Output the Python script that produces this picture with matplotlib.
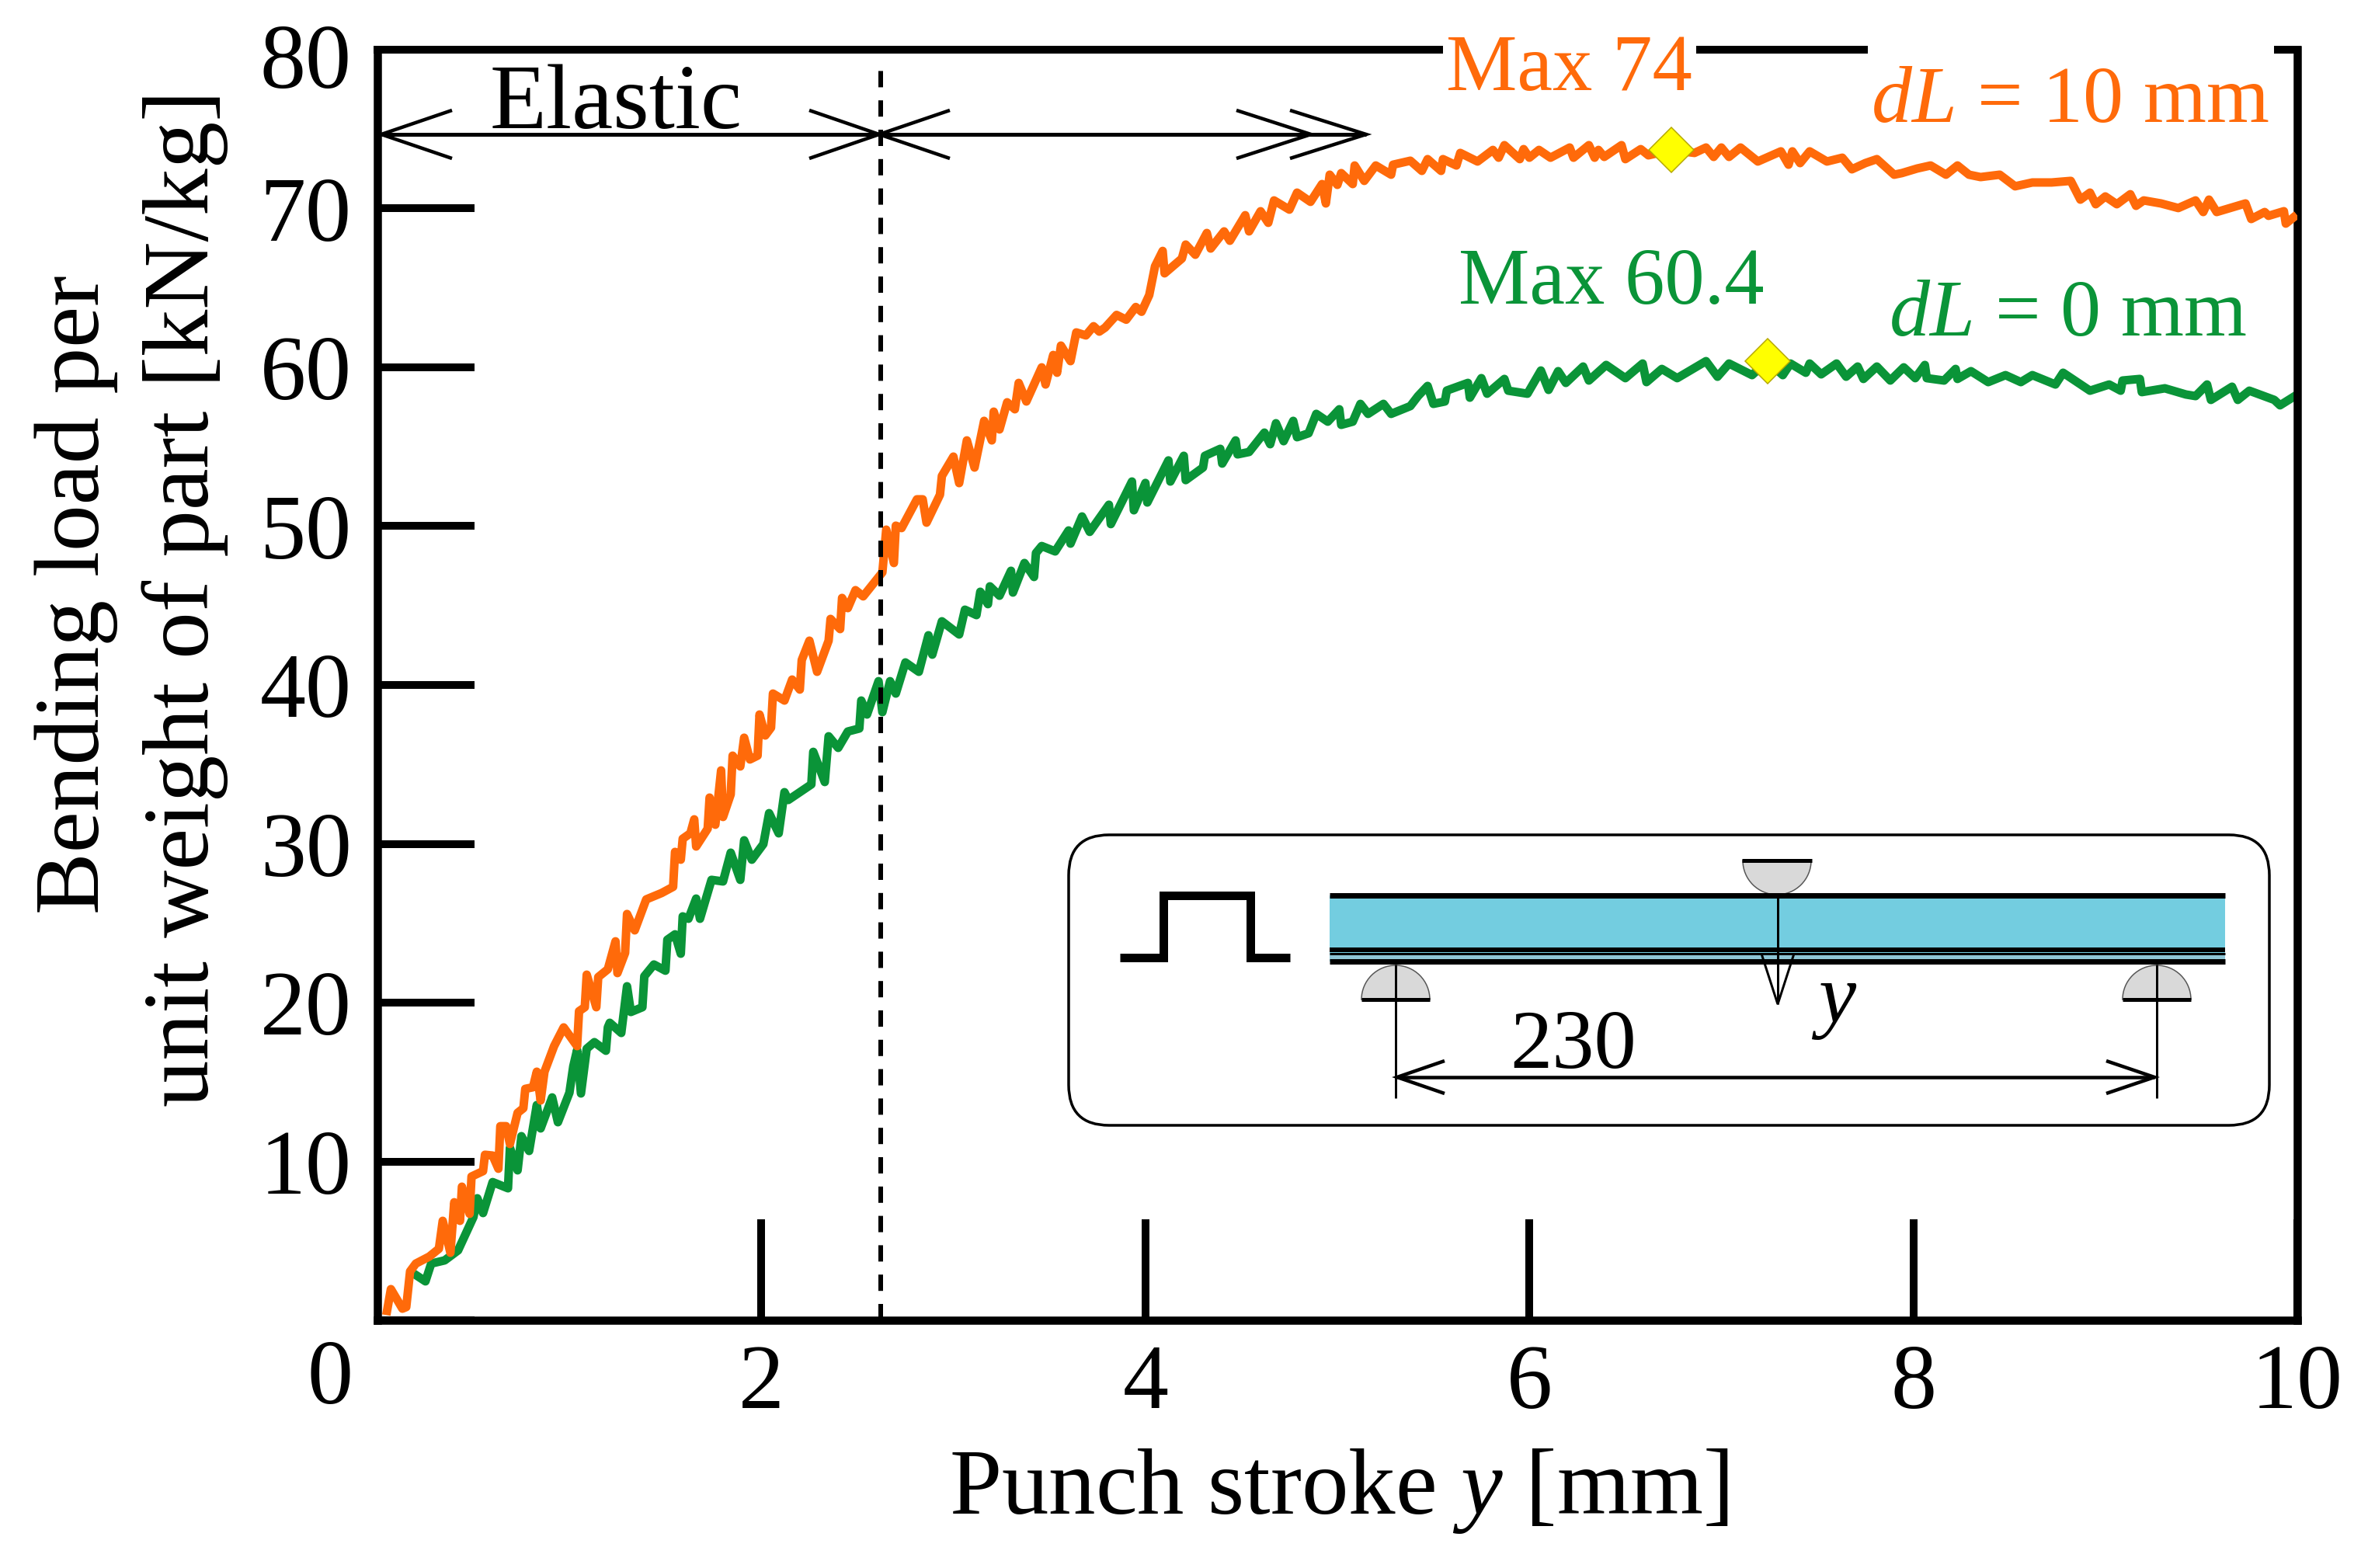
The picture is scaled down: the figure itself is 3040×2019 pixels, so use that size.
from matplotlib import pyplot as plt
from matplotlib.patches import FancyBboxPatch, Rectangle, Wedge
from matplotlib.transforms import ScaledTranslation

# values, y is load in kN/kg, x is stroke in mm
orange_x = [0.05, 0.07, 0.13, 0.15, 0.17, 0.20, 0.27, 0.32, 0.34, 0.38, 0.40, 0.43, 0.44, 0.48, 0.49,
            0.55, 0.56, 0.60, 0.63, 0.64, 0.67, 0.69, 0.73, 0.76, 0.77, 0.81, 0.83, 0.85, 0.87, 0.92,
            0.97, 1.04, 1.05, 1.08, 1.09, 1.14, 1.15, 1.20, 1.24, 1.25, 1.29, 1.30, 1.34, 1.40, 1.48,
            1.54, 1.55, 1.58, 1.59, 1.63, 1.65, 1.66, 1.72, 1.73, 1.76, 1.79, 1.80, 1.84, 1.85, 1.89,
            1.91, 1.94, 1.98, 1.99, 2.02, 2.05, 2.06, 2.12, 2.16, 2.20, 2.21, 2.25, 2.29, 2.35, 2.36,
            2.41, 2.42, 2.45, 2.49, 2.53, 2.63, 2.65, 2.69, 2.70, 2.73, 2.81, 2.84, 2.86, 2.93, 2.94,
            3.00, 3.03, 3.07, 3.11, 3.16, 3.20, 3.21, 3.24, 3.28, 3.32, 3.34, 3.38, 3.46, 3.48, 3.52,
            3.54, 3.56, 3.61, 3.64, 3.69, 3.73, 3.76, 3.79, 3.85, 3.90, 3.95, 3.98, 4.02, 4.05, 4.09,
            4.10, 4.19, 4.21, 4.26, 4.32, 4.34, 4.41, 4.44, 4.52, 4.54, 4.60, 4.64, 4.67, 4.75, 4.79,
            4.86, 4.92, 4.94, 4.96, 5.00, 5.02, 5.08, 5.09, 5.14, 5.20, 5.28, 5.29, 5.38, 5.44, 5.47,
            5.54, 5.55, 5.62, 5.64, 5.73, 5.81, 5.84, 5.87, 5.95, 5.97, 6.00, 6.05, 6.11, 6.21, 6.23,
            6.31, 6.34, 6.36, 6.39, 6.48, 6.50, 6.58, 6.62, 6.74, 6.86, 6.92, 6.96, 7.00, 7.04, 7.10,
            7.19, 7.31, 7.35, 7.37, 7.41, 7.46, 7.55, 7.63, 7.68, 7.75, 7.81, 7.90, 7.94, 8.02, 8.09,
            8.17, 8.23, 8.29, 8.35, 8.45, 8.53, 8.62, 8.72, 8.82, 8.87, 8.92, 8.95, 9.00, 9.06, 9.13,
            9.16, 9.20, 9.29, 9.38, 9.47, 9.51, 9.54, 9.58, 9.73, 9.76, 9.83, 9.85, 9.93, 9.94, 9.98]
orange_y = [0.59, 1.96, 0.73, 0.83, 3.08, 3.57, 4.01, 4.50, 6.26, 4.25, 7.43, 6.26, 8.41, 6.70, 9.05,
            9.39, 10.42, 10.37, 9.54, 12.22, 12.22, 11.10, 13.06, 13.35, 14.57, 14.67, 15.65, 13.84, 15.65, 17.26,
            18.44, 17.26, 19.46, 19.71, 21.76, 19.71, 21.61, 22.10, 23.86, 21.86, 23.13, 25.58, 24.55, 26.50, 26.90,
            27.29, 29.49, 29.00, 30.32, 30.66, 31.54, 29.83, 30.95, 32.91, 31.20, 34.62, 31.69, 33.11, 35.55, 34.87,
            36.68, 35.31, 35.55, 38.14, 36.82, 37.31, 39.46, 39.02, 40.34, 39.71, 41.57, 42.79, 40.83, 42.79, 44.16,
            43.52, 45.48, 44.84, 45.97, 45.58, 47.09, 49.78, 47.68, 50.03, 49.88, 51.69, 51.69, 50.22, 51.98, 53.16,
            54.38, 52.71, 55.40, 53.69, 56.63, 55.40, 57.21, 56.09, 57.80, 57.36, 59.02, 57.85, 60.00, 58.92, 60.78,
            59.66, 61.37, 60.39, 62.20, 62.01, 62.59, 62.25, 62.50, 63.30, 63.00, 63.80, 63.50, 64.55, 66.36, 67.33,
            65.92, 66.85, 67.73, 67.09, 68.46, 67.48, 68.56, 67.97, 69.58, 68.56, 69.83, 69.10, 70.51, 69.93, 71.00,
            70.42, 71.54, 70.32, 72.13, 71.49, 72.23, 71.54, 72.71, 71.74, 72.71, 72.13, 72.76, 73.01, 72.37, 73.11,
            72.37, 73.11, 72.71, 73.50, 72.96, 73.69, 73.20, 73.99, 73.11, 73.74, 73.20, 73.69, 73.20, 73.84, 73.20,
            73.99, 73.20, 73.69, 73.25, 73.99, 73.11, 73.74, 73.35, 73.69, 73.50, 73.84, 73.25, 73.84, 73.25, 73.84,
            72.96, 73.60, 72.76, 73.60, 72.86, 73.60, 72.96, 73.20, 72.47, 72.86, 73.11, 72.13, 72.23, 72.52, 72.71,
            72.13, 72.71, 72.13, 71.98, 72.13, 71.40, 71.64, 71.64, 71.74, 70.56, 71.00, 70.27, 70.76, 70.27, 70.90,
            70.17, 70.51, 70.32, 70.03, 70.51, 69.78, 70.56, 69.78, 70.32, 69.34, 69.78, 69.54, 69.83, 69.05, 69.44]

green_x = [0.19, 0.25, 0.28, 0.35, 0.42, 0.50, 0.52, 0.55, 0.60, 0.68, 0.69, 0.73, 0.75, 0.79, 0.83,
           0.85, 0.91, 0.94, 1.00, 1.02, 1.04, 1.06, 1.09, 1.13, 1.19, 1.20, 1.21, 1.27, 1.30, 1.32,
           1.38, 1.39, 1.44, 1.50, 1.51, 1.55, 1.58, 1.59, 1.62, 1.66, 1.68, 1.74, 1.80, 1.84, 1.89,
           1.91, 1.95, 2.01, 2.04, 2.09, 2.12, 2.14, 2.26, 2.27, 2.33, 2.35, 2.40, 2.45, 2.51, 2.52,
           2.55, 2.61, 2.63, 2.67, 2.70, 2.75, 2.82, 2.87, 2.89, 2.94, 3.03, 3.06, 3.12, 3.14, 3.18,
           3.19, 3.24, 3.30, 3.31, 3.37, 3.42, 3.43, 3.46, 3.53, 3.60, 3.61, 3.67, 3.71, 3.81, 3.82,
           3.93, 3.94, 4.00, 4.01, 4.12, 4.13, 4.20, 4.21, 4.30, 4.31, 4.39, 4.40, 4.47, 4.48, 4.54,
           4.62, 4.65, 4.68, 4.72, 4.77, 4.79, 4.85, 4.89, 4.95, 5.01, 5.02, 5.08, 5.12, 5.16, 5.24,
           5.28, 5.38, 5.42, 5.47, 5.50, 5.56, 5.57, 5.68, 5.69, 5.75, 5.78, 5.87, 5.89, 5.99, 6.06,
           6.10, 6.15, 6.19, 6.28, 6.31, 6.40, 6.50, 6.59, 6.61, 6.69, 6.77, 6.92, 6.98, 7.04, 7.16,
           7.24, 7.32, 7.36, 7.44, 7.46, 7.52, 7.60, 7.65, 7.71, 7.74, 7.81, 7.88, 7.95, 8.01, 8.06,
           8.07, 8.16, 8.22, 8.23, 8.30, 8.39, 8.48, 8.56, 8.62, 8.74, 8.78, 8.92, 9.02, 9.08, 9.09,
           9.18, 9.19, 9.31, 9.42, 9.47, 9.53, 9.55, 9.66, 9.69, 9.75, 9.88, 9.91, 10.0]
green_y = [2.93, 2.45, 3.57, 3.77, 4.40, 6.50, 7.68, 6.75, 8.70, 8.31, 10.86, 9.44, 11.59, 10.66, 13.55,
           12.08, 14.03, 12.47, 14.33, 15.99, 17.02, 14.28, 17.10, 17.51, 16.97, 18.44, 18.73, 18.09, 21.03, 19.41,
           19.71, 21.66, 22.40, 22.01, 23.96, 24.30, 23.08, 25.43, 25.28, 26.55, 25.28, 27.73, 27.63, 29.44, 27.73,
           30.22, 29.00, 29.98, 31.93, 30.66, 33.25, 32.76, 33.74, 35.79, 33.89, 36.77, 36.04, 37.07, 37.26, 39.02,
           38.14, 40.24, 38.29, 40.24, 39.46, 41.42, 40.83, 43.13, 41.91, 44.01, 43.18, 44.74, 44.40, 45.87, 45.09,
           46.21, 45.62, 47.19, 45.82, 47.68, 46.80, 48.31, 48.75, 48.41, 49.73, 48.90, 50.61, 49.64, 51.35, 50.13,
           52.81, 51.00, 52.72, 51.49, 54.14, 52.81, 54.43, 52.90, 53.69, 54.43, 54.87, 53.94, 55.40, 54.52, 54.67,
           55.89, 55.16, 56.48, 55.35, 56.63, 55.60, 55.85, 57.07, 56.58, 57.36, 56.38, 56.58, 57.70, 57.07, 57.70,
           57.07, 57.56, 58.19, 58.83, 57.70, 57.85, 58.54, 59.02, 58.09, 59.32, 58.34, 59.27, 58.53, 58.34, 59.80,
           58.58, 59.76, 59.02, 60.05, 59.17, 60.15, 59.32, 60.24, 59.07, 59.90, 59.32, 60.39, 59.41, 60.24, 59.51,
           60.40, 59.51, 60.24, 59.66, 60.24, 59.56, 60.24, 59.41, 60.05, 59.27, 60.05, 59.17, 60.00, 59.32, 60.15,
           59.32, 59.17, 59.90, 59.27, 59.76, 59.07, 59.51, 59.07, 59.51, 58.92, 59.66, 58.53, 58.92, 58.53, 59.17,
           59.27, 58.44, 58.68, 58.29, 58.19, 58.92, 57.95, 58.78, 57.95, 58.53, 57.95, 57.61, 58.29]

max_x = [6.74, 7.24]
max_y = [73.7, 60.4]
elastic_limit = 2.62

x_ticks = [2, 4, 6, 8, 10]
y_ticks = [0, 10, 20, 30, 40, 50, 60, 70, 80]
y_labels = ['', '10', '20', '30', '40', '50', '60', '70', '80']

ORANGE = '#FF6A0A'
GREEN = '#0A9438'
FONT = 'Liberation Serif'
PX = 0.72  # one picture pixel in points at dpi 100

plt.rcParams['font.family'] = [FONT, 'DejaVu Serif']
plt.rcParams['mathtext.fontset'] = 'custom'
plt.rcParams['mathtext.rm'] = FONT
plt.rcParams['mathtext.it'] = FONT + ':italic'

fig = plt.figure(figsize=(30.4, 20.19), dpi=100)
ax = fig.add_axes([486 / 3040, 319 / 2019, 2472 / 3040, 1636 / 2019])
ax.set_xlim(0, 10)
ax.set_ylim(0, 80)

ax.plot(orange_x, orange_y, color=ORANGE, lw=11 * PX, zorder=3)
ax.plot(green_x, green_y, color=GREEN, lw=11 * PX, zorder=2)
ax.plot(max_x, max_y, ls='none', marker='D', ms=41 * PX, mfc='#FFFF00', mec='#B5A800', mew=1.5 * PX, zorder=5)
ax.axvline(elastic_limit, ymax=0.99, color='black', lw=6 * PX, dashes=(3.5, 2.8), zorder=4)

for side in ['left', 'bottom', 'right']:
    ax.spines[side].set_linewidth(10.5 * PX)
ax.spines['top'].set_visible(False)

ax.set_xticks(x_ticks)
ax.set_yticks(y_ticks)
ax.set_yticklabels(y_labels)
ax.tick_params(axis='x', direction='in', length=130 * PX, width=10 * PX, pad=22, labelsize=85)
ax.tick_params(axis='y', direction='in', length=125 * PX, width=10 * PX, pad=24, labelsize=85)
top_label = ax.get_yticklabels()[-1]
top_label.set_transform(top_label.get_transform() + ScaledTranslation(0, -0.08, fig.dpi_scale_trans))

# everything below is placed in picture pixels, y going down
over = fig.add_axes([0, 0, 1, 1], zorder=10)
over.set_xlim(0, 3040)
over.set_ylim(2019, 0)
over.axis('off')
over.patch.set_alpha(0)


def seg(xs, ys, width=4, color='black', **kw):
    over.plot(xs, ys, color=color, lw=width * PX, solid_capstyle=kw.pop('cap', 'butt'), **kw)


def head(tip_x, tip_y, back_x, spread, width=4.5):
    seg([back_x, tip_x, back_x], [tip_y - spread, tip_y, tip_y + spread], width, solid_joinstyle='miter')


# broken top edge of the frame
seg([481, 1858], [64, 64], 10)
seg([2184, 2405], [64, 64], 10)
seg([2928, 2963], [64, 64], 10)

# elastic range arrows
seg([491, 1132], [173, 173], 5)
seg([1132, 1759], [173, 173], 5)
head(491, 173, 582, 31)
head(1132, 173, 1042, 31)
head(1132, 173, 1223, 31)
head(1688, 173, 1592, 31)
head(1759, 173, 1661, 31)

# inset with the bending set-up
over.add_patch(FancyBboxPatch((1428, 1127), 1442, 270, boxstyle='round,pad=52,rounding_size=52',
                              fc='none', ec='black', lw=3.5 * PX))
seg([1442, 1498, 1498, 1610, 1610, 1661], [1233, 1233, 1153, 1153, 1233, 1233], 11, solid_joinstyle='miter')

over.add_patch(Rectangle((1712, 1153), 1153, 85, fc='#73CDE0', ec='none'))
over.add_patch(Rectangle((1712, 1228), 1153, 8, fc='#8FC6D6', ec='none'))
seg([1712, 2865], [1153, 1153], 7)
seg([1712, 2865], [1223, 1223], 6)
seg([1712, 2865], [1228, 1228], 3)
seg([1712, 2865], [1238, 1238], 7)

over.add_patch(Wedge((2288, 1108), 44, 0, 180, fc='#D9D9D9', ec='#555555', lw=1.5 * PX))
seg([2243, 2333], [1108, 1108], 5)
for cx in [1797, 2777]:
    over.add_patch(Wedge((cx, 1287), 44, 180, 360, fc='#D9D9D9', ec='#555555', lw=1.5 * PX))
    seg([cx - 44, cx + 44], [1287, 1287], 5)
    seg([cx, cx], [1242, 1414], 3)

seg([2289, 2289], [1156, 1293], 3)
seg([2268, 2289, 2310], [1228, 1293, 1228], 3, solid_joinstyle='miter')

seg([1799, 2774], [1387, 1387], 4.5)
head(1799, 1387, 1860, 21)
head(2774, 1387, 2712, 21)

over.text(2026, 1375, '230', fontsize=78, ha='center', va='baseline')
over.text(2362, 1316, r'$y$', fontsize=78, ha='center', va='baseline')

# labels
over.text(793, 165, 'Elastic', fontsize=86, ha='center', va='baseline')
over.text(2020, 116, 'Max 74', fontsize=74, color=ORANGE, ha='center', va='baseline')
over.text(2075, 391, 'Max 60.4', fontsize=74, color=GREEN, ha='center', va='baseline')
over.text(2666, 157, r'$dL$ = 10 mm', fontsize=75, color=ORANGE, ha='center', va='baseline')
over.text(2663, 432, r'$dL$ = 0 mm', fontsize=75, color=GREEN, ha='center', va='baseline')
over.text(425, 1778, '0', fontsize=85, ha='center', va='center')
over.text(1724, 1949, r'Punch stroke $y$ [mm]', fontsize=87, ha='center', va='baseline')
over.text(98, 766, 'Bending load per', fontsize=86, rotation=90, ha='center', va='center')
over.text(238, 770, 'unit weight of part [kN/kg]', fontsize=87, rotation=90, ha='center', va='center')

fig.savefig('out.png', dpi=100)
